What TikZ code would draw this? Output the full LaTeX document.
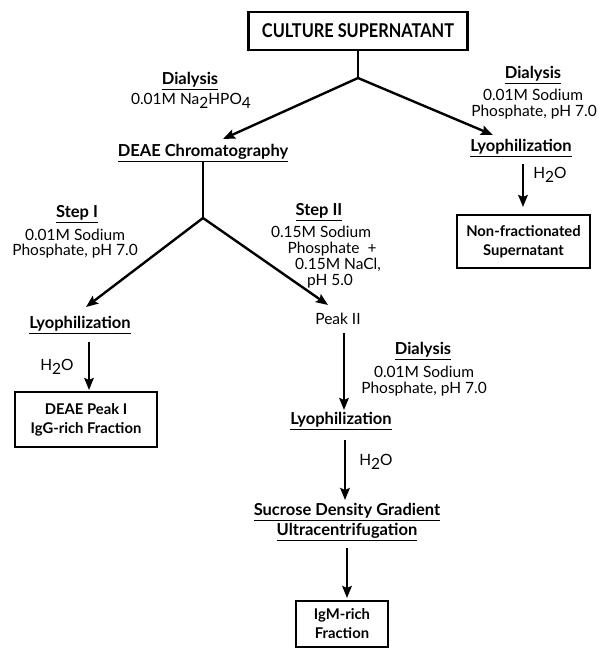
\documentclass[tikz,border=0pt]{standalone}
\usepackage{fontspec}
\setmainfont{Lato}
\newfontfamily\condfont[FakeStretch=0.86]{Lato}
\usetikzlibrary{arrows.meta}
\newcommand{\sbs}[1]{\raisebox{-0.6ex}{#1}}
\begin{document}
\begin{tikzpicture}[x=1pt,y=-1pt,
  every node/.style={inner sep=0pt, outer sep=0pt},
  txt/.style={font=\fontsize{15.5}{17}\selectfont},
  hd/.style={font=\bfseries\fontsize{16.5}{18}\selectfont, inner ysep=2pt,
    append after command={(\tikzlastnode.south west) edge[line width=1.7pt] (\tikzlastnode.south east)}},
  box/.style={draw, line width=2.2pt, align=center, font=\bfseries\fontsize{14.8}{19}\selectfont},
  ln/.style={line width=2.4pt},
  arr/.style={line width=2.4pt, -{Stealth[length=12pt,width=9.5pt,inset=2pt]}}]
\useasboundingbox (0,0) rectangle (599,648);
% top
\node[box, minimum width=219pt, minimum height=38pt, font=\condfont\bfseries\fontsize{19}{20}\selectfont] (top) at (358,31) {CULTURE SUPERNATANT};
\coordinate (j1) at (358,78);
\draw[ln] (top.south) -- (j1);
% left branch label
\node[hd] (dial1) at (190,80) {Dialysis};
\node[txt] (na) at (191,101) {0.01M Na\sbs{2}HPO\sbs{4}};
\node[hd] (deae) at (203,152) {DEAE Chromatography};
\coordinate (t1) at (223,139);
\draw[arr] (j1) -- (t1);
% right branch
\node[hd] (dial2) at (533,74) {Dialysis};
\node[txt] (r1) at (533,95) {0.01M Sodium};
\node[txt] (r2) at (534,112) {Phosphate, pH 7.0};
\coordinate (t2) at (493,135);
\draw[arr] (j1) -- (t2);
\node[hd] (lyoR) at (521,147) {Lyophilization};
\coordinate (a2s) at (523,164);
\draw[arr] (a2s) -- (523,207) coordinate (a2e);
\node[txt] (h2oR) at (550,175) {H\sbs{2}O};
\node[box, minimum width=133pt, minimum height=53pt] (nonfrac) at (523.5,241.5) {Non-fractionated\\Supernatant};
% DEAE split
\coordinate (j2) at (203,218);
\draw[ln] (deae.south) -- (j2);
\coordinate (t3) at (86,307);
\coordinate (t4) at (328,305);
\draw[arr] (j2) -- (t3);
\draw[arr] (j2) -- (t4);
\node[hd] (step1) at (77,213) {Step I};
\node[txt] (s1a) at (75,235) {0.01M Sodium};
\node[txt] (s1b) at (75,251) {Phosphate, pH 7.0};
\node[hd] (step2) at (319,211) {Step II};
\node[txt] (s2a) at (321,232) {0.15M Sodium};
\node[txt] (s2b) at (332,249) {Phosphate\ \ +};
\node[txt] (s2c) at (338,265) {0.15M NaCl,};
\node[txt] (s2d) at (330,281) {pH 5.0};
\node[txt] (peak2) at (338,319) {Peak II};
% left lower
\node[hd] (lyoL) at (80,324) {Lyophilization};
\coordinate (a3s) at (89,342);
\node[box, minimum width=142pt, minimum height=55pt] (peak1) at (86,419.5) {DEAE Peak I\\IgG-rich Fraction};
\draw[arr] (a3s) -- ([yshift=2pt]peak1.north -| a3s);
\node[txt] (h2oL) at (57,367) {H\sbs{2}O};
% right lower
\coordinate (a4s) at (344,333);
\node[hd] (lyoM) at (341,420) {Lyophilization};
\draw[arr] (a4s) -- (344,410) coordinate (a4e);
\node[hd] (dial3) at (423,350) {Dialysis};
\node[txt] (m1) at (424,372) {0.01M Sodium};
\node[txt] (m2) at (424,389) {Phosphate, pH 7.0};
\coordinate (a5s) at (345,440);
\draw[arr] (a5s) -- (345,500) coordinate (a5e);
\node[txt] (h2oM) at (376,462) {H\sbs{2}O};
\node[hd] (suc) at (347,511) {Sucrose Density Gradient};
\node[hd] (ultra) at (347,531) {Ultracentrifugation};
\coordinate (a6s) at (347,548);
\node[box, minimum width=92pt, minimum height=46pt] (igm) at (342,624) {IgM-rich\\Fraction};
\draw[arr] (a6s) -- ([yshift=3pt]igm.north -| a6s);
\end{tikzpicture}
\end{document}
